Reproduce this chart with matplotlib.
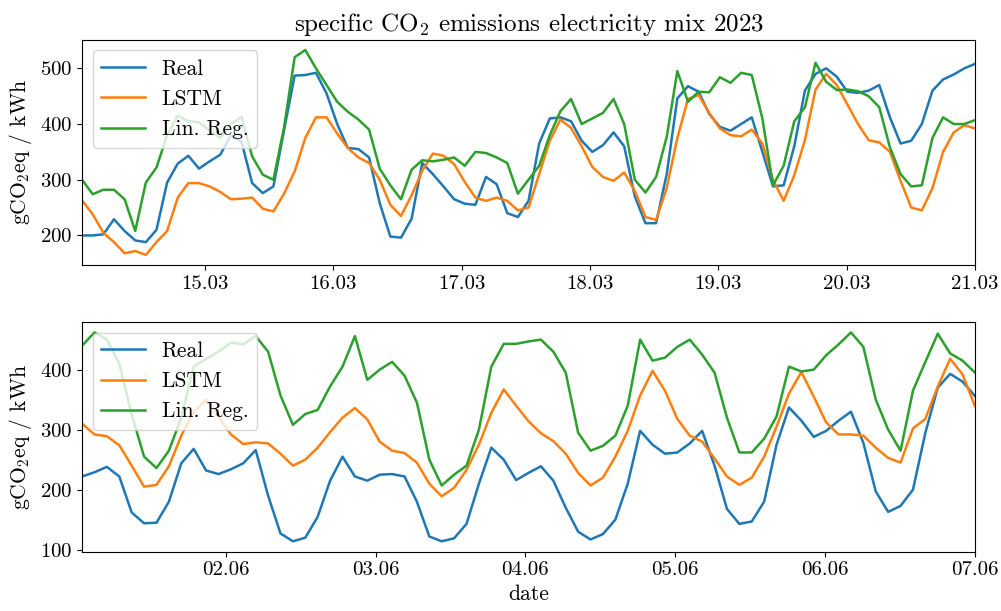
import numpy as np
import pandas as pd
import matplotlib
matplotlib.use("Agg")
import matplotlib.pyplot as plt
import matplotlib.dates as mdates

plt.rcParams["font.family"] = "serif"
plt.rcParams["font.serif"] = ["cmr10"]
plt.rcParams["mathtext.fontset"] = "cm"
plt.rcParams["axes.formatter.use_mathtext"] = True
plt.rcParams["font.size"] = 15.5
plt.rcParams["xtick.labelsize"] = 15
plt.rcParams["ytick.labelsize"] = 15
plt.rcParams["axes.titlesize"] = 18
plt.rcParams["lines.linewidth"] = 1.8

# March week (every ~2 h)
real_mar = [200, 200, 202, 229, 208, 191, 188, 210, 295, 329, 343, 320, 333, 345, 380, 368, 294, 276, 288, 389, 487, 488,
            492, 455, 400, 357, 355, 340, 258, 198, 196, 230, 330, 310, 288, 265, 257, 255, 305, 292, 240, 233, 262,
            365, 410, 412, 405, 370, 350, 362, 385, 360, 270, 222, 222, 310, 446, 468, 458, 418, 395, 388, 400, 412,
            350, 288, 290, 360, 460, 490, 500, 485, 458, 456, 460, 470, 412, 365, 370, 400, 460, 480, 489, 500, 508]
lstm_mar = [263, 238, 205, 188, 168, 172, 165, 188, 208, 268, 294, 294, 288, 278, 265, 266, 268, 248, 243, 275, 315, 375,
            412, 412, 383, 357, 340, 330, 300, 255, 235, 272, 316, 347, 343, 328, 296, 268, 262, 268, 262, 245, 250,
            310, 370, 408, 393, 360, 323, 305, 298, 313, 280, 233, 228, 285, 375, 445, 452, 420, 392, 380, 378, 390,
            365, 300, 262, 308, 371, 462, 490, 470, 435, 400, 371, 367, 350, 298, 250, 245, 285, 350, 385, 398, 392]
lin_mar = [300, 274, 282, 282, 265, 208, 295, 322, 380, 415, 405, 403, 388, 375, 400, 413, 342, 309, 300, 394, 520, 533,
           500, 470, 440, 422, 408, 390, 320, 290, 265, 318, 335, 333, 336, 340, 325, 350, 348, 340, 330, 275, 300,
           325, 380, 423, 445, 400, 410, 420, 445, 400, 300, 277, 305, 377, 495, 440, 458, 457, 484, 474, 492, 488,
           410, 290, 325, 405, 430, 510, 476, 461, 462, 459, 450, 430, 358, 310, 288, 290, 375, 412, 400, 400, 407]

# June week (every ~2 h)
real_jun = [222, 229, 238, 222, 162, 144, 145, 180, 244, 268, 232, 226, 234, 244, 266, 190, 127, 114, 120,
            155, 215, 255, 222, 215, 225, 226, 222, 180, 122, 114, 119, 143, 210, 270, 250, 216, 228,
            239, 215, 170, 130, 117, 126, 150, 210, 298, 275, 260, 262, 277, 298, 240, 168, 143, 147,
            180, 275, 337, 315, 288, 298, 315, 330, 278, 197, 163, 173, 200, 295, 370, 393, 380, 356]
lstm_jun = [310, 292, 289, 274, 240, 205, 208, 239, 290, 330, 350, 322, 292, 276, 279, 277, 260, 240, 250,
            270, 296, 320, 336, 317, 280, 265, 261, 245, 210, 189, 203, 233, 275, 328, 367, 340, 314,
            294, 281, 260, 228, 207, 220, 255, 298, 357, 398, 365, 318, 290, 280, 252, 222, 208, 220,
            255, 305, 360, 396, 355, 312, 292, 292, 290, 270, 253, 245, 302, 318, 372, 418, 392, 339]
lin_jun = [440, 462, 450, 410, 325, 255, 236, 265, 320, 405, 418, 430, 445, 442, 456, 430, 357, 308, 326,
           333, 372, 405, 456, 383, 400, 413, 390, 345, 250, 207, 225, 240, 300, 405, 443, 443, 447,
           450, 430, 395, 295, 265, 273, 290, 340, 450, 415, 420, 438, 450, 425, 395, 320, 262, 262,
           285, 322, 405, 397, 400, 424, 442, 462, 438, 350, 300, 265, 365, 413, 460, 427, 415, 395]

t_mar = pd.date_range("2023-03-14 01:00", "2023-03-21 00:00", periods=len(real_mar))
t_jun = pd.date_range("2023-06-01 01:00", "2023-06-07 00:00", periods=len(real_jun))

fig = plt.figure(figsize=(10.01, 6.11), dpi=100)
ax1 = fig.add_axes([0.082, 0.566, 0.892, 0.369])
ax2 = fig.add_axes([0.082, 0.097, 0.892, 0.376])

for ax, t, r, l, g in [(ax1, t_mar, real_mar, lstm_mar, lin_mar),
                       (ax2, t_jun, real_jun, lstm_jun, lin_jun)]:
    ax.plot(t, r, label="Real")
    ax.plot(t, l, label="LSTM")
    ax.plot(t, g, label="Lin. Reg.")
    ax.set_xlim(t[0], t[-1])
    ax.xaxis.set_major_locator(mdates.DayLocator())
    ax.xaxis.set_major_formatter(mdates.DateFormatter("%d.%m"))
    ax.set_ylabel(r"gCO$_2$eq / kWh")
    ax.legend(loc="upper left")

ax1.set_title(r"specific CO$_2$ emissions electricity mix 2023")
ax2.set_xlabel("date")

fig.savefig("out.png", dpi=100)
